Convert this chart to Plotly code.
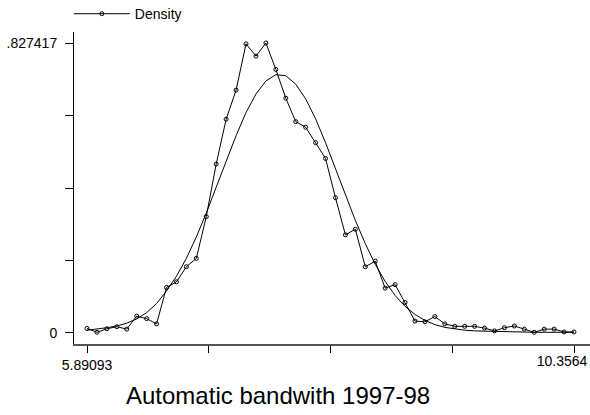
import plotly.graph_objects as go

# evaluation grid (min and max are the axis labels)
grid_x = [
    5.8909, 5.9821, 6.0732, 6.1643, 6.2554, 6.3466, 6.4377, 6.5288, 6.6200, 6.7111,
    6.8022, 6.8934, 6.9845, 7.0756, 7.1668, 7.2579, 7.3490, 7.4402, 7.5313, 7.6224,
    7.7136, 7.8047, 7.8958, 7.9870, 8.0781, 8.1692, 8.2604, 8.3515, 8.4426, 8.5337,
    8.6249, 8.7160, 8.8071, 8.8983, 8.9894, 9.0805, 9.1717, 9.2628, 9.3539, 9.4451,
    9.5362, 9.6273, 9.7185, 9.8096, 9.9007, 9.9919, 10.0830, 10.1741, 10.2653, 10.3564,
]

density = [
    0.013, 0.002, 0.012, 0.018, 0.011, 0.048, 0.041, 0.026, 0.130, 0.146,
    0.189, 0.213, 0.332, 0.482, 0.610, 0.693, 0.825, 0.790, 0.827417, 0.752,
    0.670, 0.603, 0.587, 0.543, 0.498, 0.386, 0.280, 0.296, 0.189, 0.205,
    0.128, 0.138, 0.087, 0.034, 0.032, 0.047, 0.026, 0.019, 0.019, 0.019,
    0.014, 0.006, 0.015, 0.020, 0.011, 0.002, 0.011, 0.011, 0.003, 0.003,
]

normal_density = [
    0.008, 0.011, 0.015, 0.020, 0.028, 0.040, 0.058, 0.084, 0.120, 0.162,
    0.213, 0.274, 0.342, 0.416, 0.491, 0.563, 0.629, 0.682, 0.719, 0.737,
    0.734, 0.710, 0.668, 0.611, 0.543, 0.469, 0.394, 0.321, 0.255, 0.196,
    0.147, 0.107, 0.076, 0.053, 0.036, 0.024, 0.016, 0.011, 0.008, 0.006,
    0.005, 0.004, 0.003, 0.003, 0.002, 0.002, 0.002, 0.002, 0.002, 0.002,
]

x_ticks = [5.89093, 7.00730, 8.12367, 9.24003, 10.3564]
x_ticktext = ["5.89093", "", "", "", ""]
x_last_tick = [10.3564]
x_last_text = ["10.3564"]
y_ticks = [0, 0.206854, 0.413709, 0.620563, 0.827417]
y_ticktext = ["0", "", "", "", ".827417"]

title_text = "Automatic bandwith 1997-98"

FONT = "Liberation Sans, Arial, sans-serif"

fig = go.Figure()

fig.add_trace(
    go.Scatter(
        x=grid_x,
        y=normal_density,
        mode="lines",
        line={"color": "black", "width": 1},
        showlegend=False,
        hoverinfo="skip",
    )
)

fig.add_trace(
    go.Scatter(
        x=grid_x,
        y=density,
        mode="lines+markers",
        name="Density",
        line={"color": "black", "width": 1},
        marker={
            "symbol": "circle-open",
            "size": 4,
            "color": "black",
            "line": {"width": 1, "color": "black"},
        },
    )
)

fig.update_layout(
    width=590,
    height=415,
    margin={"l": 74, "r": 0, "t": 32, "b": 71, "autoexpand": False},
    paper_bgcolor="white",
    plot_bgcolor="white",
    font={"family": FONT, "size": 14, "color": "black"},
    legend={
        "x": -0.01,
        "xanchor": "left",
        "yref": "container",
        "y": 0.966,
        "yanchor": "middle",
        "orientation": "h",
        "itemwidth": 56,
        "font": {"size": 14},
        "bgcolor": "rgba(0,0,0,0)",
    },
    xaxis={
        "range": [5.7717, 10.503],
        "tickmode": "array",
        "tickvals": x_ticks,
        "ticktext": x_ticktext,
        "ticks": "outside",
        "ticklen": 7,
        "tickcolor": "black",
        "showgrid": False,
        "zeroline": False,
        "showline": True,
        "linecolor": "#555555",
        "linewidth": 1.5,
        "tickfont": {"size": 14},
    },
    xaxis2={
        "overlaying": "x",
        "matches": "x",
        "side": "bottom",
        "tickmode": "array",
        "tickvals": x_last_tick,
        "ticktext": x_last_text,
        "ticks": "",
        "ticklabelshift": -12,
        "ticklabelstandoff": 7,
        "showgrid": False,
        "zeroline": False,
        "showline": False,
        "tickfont": {"size": 14},
    },
    yaxis={
        "range": [-0.0314, 0.8588],
        "tickmode": "array",
        "tickvals": y_ticks,
        "ticktext": y_ticktext,
        "ticks": "outside",
        "ticklen": 8,
        "ticklabelstandoff": 5,
        "tickcolor": "black",
        "showgrid": False,
        "zeroline": False,
        "showline": True,
        "linecolor": "black",
        "linewidth": 1,
        "tickfont": {"size": 14},
    },
    annotations=[
        {
            "text": title_text,
            "xref": "paper",
            "yref": "paper",
            "x": 0.396,
            "y": -0.165,
            "xanchor": "center",
            "yanchor": "middle",
            "showarrow": False,
            "font": {"size": 24, "family": FONT, "color": "black"},
        }
    ],
)

# invisible trace on the second x-axis so the last tick label gets drawn
fig.add_trace(
    go.Scatter(
        x=x_last_tick,
        y=[0],
        xaxis="x2",
        mode="markers",
        marker={"opacity": 0},
        showlegend=False,
        hoverinfo="skip",
    )
)

fig.write_html(
    "out.html",
    config={"displayModeBar": False},
    post_script="document.body.style.margin='0';",
)
